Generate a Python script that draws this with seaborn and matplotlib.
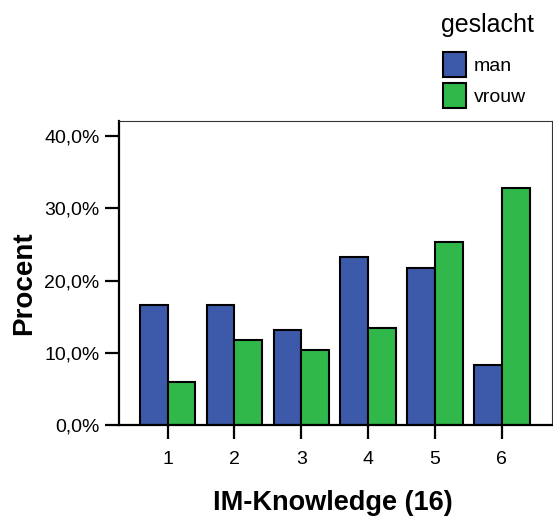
import pandas as pd
import numpy as np
import matplotlib
matplotlib.use('Agg')
import matplotlib.pyplot as plt
import seaborn as sns
from matplotlib.ticker import FuncFormatter

categories = ['1', '2', '3', '4', '5', '6']
man = [16.6, 16.6, 13.2, 23.3, 21.7, 8.3]
vrouw = [5.9, 11.8, 10.4, 13.4, 25.3, 32.8]
groups = ['man', 'vrouw']

df = pd.DataFrame({
    'IM': categories * 2,
    'geslacht': ['man'] * len(man) + ['vrouw'] * len(vrouw),
    'Procent': man + vrouw,
})

sns.set_style('white')
plt.rcParams['font.family'] = ['Liberation Sans', 'DejaVu Sans']
plt.rcParams.update({'text.color': 'black', 'axes.labelcolor': 'black',
                     'xtick.color': 'black', 'ytick.color': 'black'})

fig = plt.figure(figsize=(5.53, 5.18), dpi=100)
ax = fig.add_axes([0.215, 0.18, 0.783, 0.586])

sns.barplot(data=df, x='IM', y='Procent', hue='geslacht', order=categories,
            hue_order=groups, palette=['#3d59aa', '#30b84a'], width=0.83,
            edgecolor='black', linewidth=1.5, saturation=1, ax=ax, legend=True)

ax.set_xlim(-0.73, 5.75)
ax.set_ylim(0, 42.1)
ax.set_yticks([0, 10, 20, 30, 40])
ax.yaxis.set_major_formatter(FuncFormatter(lambda v, p: f'{v:.1f}%'.replace('.', ',')))
ax.tick_params(axis='both', direction='out', length=10, width=1.6,
               labelsize=14, left=True, bottom=True)
ax.tick_params(axis='x', pad=9)
ax.tick_params(axis='y', pad=4)

for s in ['left', 'bottom']:
    ax.spines[s].set_linewidth(1.6)
    ax.spines[s].set_color('black')
for s in ['top', 'right']:
    ax.spines[s].set_linewidth(0.8)
    ax.spines[s].set_color('#333333')

ax.set_xlabel('IM-Knowledge (16)', fontsize=19.5, fontweight='bold')
ax.set_ylabel('Procent', fontsize=20, fontweight='bold')
ax.xaxis.set_label_coords(0.494, -0.215)
ax.yaxis.set_label_coords(-0.188, 0.467)

leg = ax.legend(loc='upper left', bbox_to_anchor=(0.801, 0.8996),
                bbox_transform=fig.transFigure, frameon=False, fontsize=14,
                handlelength=1.18, handleheight=1.6, handletextpad=0.4,
                labelspacing=0.3, borderpad=0, borderaxespad=0)
for h in leg.legend_handles:
    h.set_edgecolor('black')
    h.set_linewidth(1.5)
fig.text(487 / 553, 1 - 25 / 518, 'geslacht', fontsize=18, ha='center', va='center')

fig.savefig('out.png', dpi=100)
